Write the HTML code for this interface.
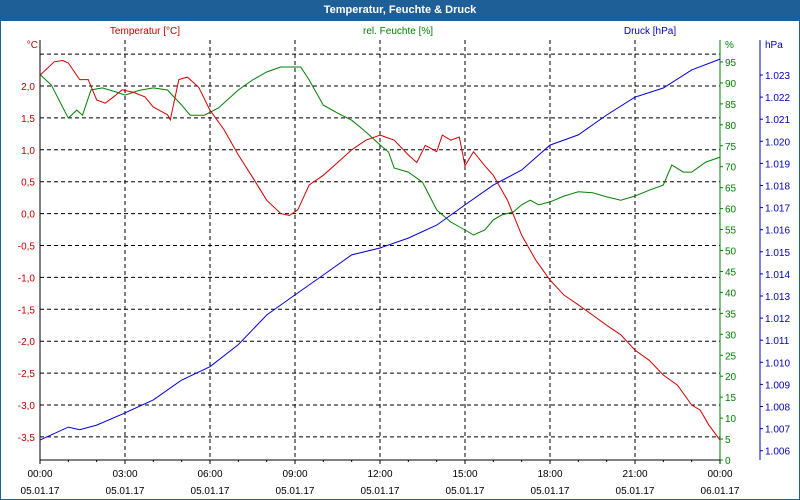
<!DOCTYPE html>
<html><head><meta charset="utf-8">
<style>
body{margin:0;background:#fff;font-family:"Liberation Sans",sans-serif;}
#wrap{position:relative;width:798px;height:498px;border:1px solid #1e5f96;overflow:hidden;background:#fff}
#title{position:absolute;left:0;top:0;width:798px;height:20px;background:#1f5f97;color:#fff;font-weight:bold;font-size:11px;text-align:center;line-height:19px}
svg{position:absolute;left:-1px;top:-1px}
</style></head><body>
<div id="wrap">
<div id="title">Temperatur, Feuchte &amp; Druck</div>
<svg id="chart" width="800" height="500" font-family="Liberation Sans, sans-serif" font-size="10"></svg>
</div>
<script>
const tempT=[0,0.5,0.8,1.0,1.4,1.7,2.0,2.3,2.6,2.9,3.3,3.7,4.0,4.5,4.6,4.9,5.2,5.6,6.0,6.5,7.0,7.5,8.0,8.5,8.8,9.1,9.5,10,10.5,11,11.5,12,12.5,13,13.3,13.6,14,14.2,14.5,14.8,15,15.3,15.7,16,16.5,17,17.5,18,18.5,19,19.5,20,20.5,21,21.5,22,22.5,23,23.3,23.6,24];
const tempV=[2.17,2.38,2.4,2.36,2.1,2.1,1.78,1.73,1.83,1.94,1.9,1.83,1.67,1.55,1.47,2.1,2.14,1.98,1.62,1.31,0.92,0.57,0.21,0.0,-0.03,0.06,0.45,0.6,0.8,1.0,1.15,1.23,1.15,0.92,0.8,1.07,0.97,1.23,1.15,1.2,0.75,0.97,0.75,0.6,0.21,-0.34,-0.73,-1.04,-1.28,-1.43,-1.59,-1.75,-1.9,-2.14,-2.3,-2.53,-2.69,-3.0,-3.08,-3.31,-3.55];
const humT=[0,0.4,1.0,1.3,1.5,1.8,2.2,2.7,3.0,3.5,4.0,4.5,5.0,5.3,5.8,6.3,7.0,7.5,8.0,8.5,9.2,9.5,10,10.5,11,11.5,12,12.3,12.5,13,13.5,14,14.5,15,15.3,15.7,16,16.3,16.7,17,17.3,17.6,18,18.5,19,19.5,20,20.5,21,21.5,22,22.3,22.7,23,23.5,24];
const humV=[92,89.5,81.6,83.5,82.3,88.3,88.8,87.8,87.1,88.2,88.8,88.3,84.7,82.3,82.3,84,88.3,90.7,92.6,93.8,93.8,90.7,84.7,82.8,81.1,78.3,75.2,73.5,69.7,68.7,66.3,59.7,56.8,54.9,53.7,54.9,57.3,58.5,59.2,60.9,62,60.9,61.6,63,64,63.8,62.8,62,63,64.4,65.6,70.4,68.7,68.7,71.1,72.3];
const presT=[0,1,1.4,2,3,4,5,6,7,8,9,10,11,12,13,14,15,16,17,18,19,20,21,22,23,24];
const presV=[1.00648,1.00707,1.00695,1.00716,1.00771,1.0083,1.0092,1.0098,1.0108,1.01214,1.01305,1.01395,1.01486,1.01517,1.01562,1.01621,1.01712,1.01802,1.0187,1.01983,1.02029,1.02119,1.022,1.02241,1.02323,1.02372];
const tempTicks=[2.0,1.5,1.0,0.5,0.0,-0.5,-1.0,-1.5,-2.0,-2.5,-3.0,-3.5];
const humTicks=[0,5,10,15,20,25,30,35,40,45,50,55,60,65,70,75,80,85,90,95];
const presTicks=[1.006,1.007,1.008,1.009,1.010,1.011,1.012,1.013,1.014,1.015,1.016,1.017,1.018,1.019,1.020,1.021,1.022,1.023];
const xLabels=["00:00","03:00","06:00","09:00","12:00","15:00","18:00","21:00","00:00"];
const xDates=["05.01.17","05.01.17","05.01.17","05.01.17","05.01.17","05.01.17","05.01.17","05.01.17","06.01.17"];

const L=40,R=720,T=40,B=460;
const xS=h=>L+h*(R-L)/24;
const yT=v=>86-(v-2)*63.8;
const yH=v=>460-v*4.19;
const yP=v=>75+(1.023-v)*1000*22.1;
const svg=document.getElementById('chart');
const NS='http://www.w3.org/2000/svg';
function mk(tag,attrs,parent){const e=document.createElementNS(NS,tag);for(const k in attrs)e.setAttribute(k,attrs[k]);(parent||svg).appendChild(e);return e;}
function txt(x,y,s,fill,anchor){const e=mk('text',{x:x,y:y,fill:fill,'text-anchor':anchor||'start'});e.textContent=s;return e;}

// grid
for(let i=1;i<8;i++){const g=mk('line',{x1:xS(i*3),x2:xS(i*3),y1:T,y2:B,stroke:'#000','stroke-dasharray':'4,3'});

}
[2.5].concat(tempTicks).forEach(v=>{const g=mk('line',{x1:L,x2:R,y1:yT(v),y2:yT(v),stroke:'#000','stroke-dasharray':'4,3'});

});

// axes
const ax=mk('line',{x1:L,x2:L,y1:T,y2:B,stroke:'#000'});
const xa=mk('line',{x1:L,x2:R,y1:B,y2:B,stroke:'#000'});
const ha=mk('line',{x1:R,x2:R,y1:T,y2:B,stroke:'#008000'});
const pa=mk('line',{x1:760,x2:760,y1:T,y2:B,stroke:'#0000c0'});

for(let h=0;h<=24;h++){const t=mk('line',{x1:xS(h),x2:xS(h),y1:B,y2:B+(h%3===0?4:2),stroke:'#000'});

}
xLabels.forEach((s,i)=>{const a=txt(xS(i*3),477,s,'#000','middle');


const b=txt(xS(i*3),494,xDates[i],'#000','middle');

});
tempTicks.forEach(v=>{const a=txt(35,yT(v)+4,v.toFixed(1).replace('.',','),'#c00000','end');

});
humTicks.forEach(v=>{const a=txt(725,yH(v)+4,String(v),'#008000');


const t=mk('line',{x1:R,x2:R+3,y1:yH(v),y2:yH(v),stroke:'#008000'});

});
presTicks.forEach(v=>{const a=txt(765,yP(v)+4,v.toFixed(3).replace('.',',').replace(',', '.'),'#0000c0');


const t=mk('line',{x1:760,x2:763,y1:yP(v),y2:yP(v),stroke:'#0000c0'});

});
let u=txt(38,48,'°C','#c00000','end');
u=txt(725,48,'%','#008000');
u=txt(765,48,'hPa','#0000c0');
u=txt(145,34,'Temperatur [°C]','#c00000','middle');
u=txt(398,34,'rel. Feuchte [%]','#008000','middle');
u=txt(650,34,'Druck [hPa]','#0000c0','middle');

function line(ts,vs,yf,color){return mk('polyline',{points:ts.map((t,i)=>xS(t).toFixed(1)+','+yf(vs[i]).toFixed(1)).join(' '),fill:'none',stroke:color,'stroke-width':1});}
let s=line(humT,humV,yH,'#008000');
s=line(presT,presV,yP,'#0000dd');
s=line(tempT,tempV,yT,'#d00000');
</script>
</body></html>
